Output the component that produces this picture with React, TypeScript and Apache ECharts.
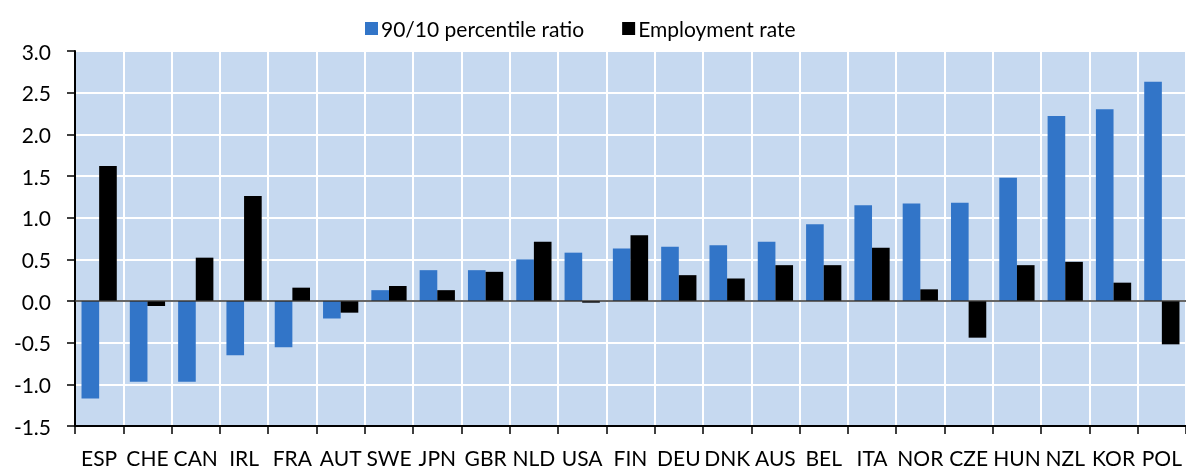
import React, { useEffect, useRef } from "react";
import * as echarts from "echarts";

const categories = ["ESP","CHE","CAN","IRL","FRA","AUT","SWE","JPN","GBR","NLD","USA","FIN","DEU","DNK","AUS","BEL","ITA","NOR","CZE","HUN","NZL","KOR","POL"];
const percentileRatio = [-1.17,-0.97,-0.97,-0.65,-0.555,-0.21,0.13,0.37,0.37,0.50,0.58,0.63,0.65,0.67,0.71,0.92,1.15,1.17,1.18,1.48,2.22,2.30,2.63];
const employmentRate = [1.62,-0.06,0.52,1.26,0.16,-0.14,0.18,0.13,0.35,0.71,-0.02,0.79,0.31,0.27,0.43,0.43,0.64,0.14,-0.44,0.43,0.47,0.22,-0.52];
const seriesNames = ["90/10 percentile ratio", "Employment rate"];

const FONT = "Lato";

export default function App() {
  const ref = useRef<HTMLDivElement>(null);
  useEffect(() => {
    if (!ref.current) return;
    const chart = echarts.init(ref.current, undefined, { renderer: "svg" });
    chart.setOption({
      animation: false,
      textStyle: { fontFamily: FONT },
      legend: {
        top: 13,
        left: 360,
        itemWidth: 13,
        itemHeight: 13,
        itemGap: 38,
        icon: "rect",
        textStyle: { fontSize: 21, color: "#000", fontFamily: FONT, padding: [0, 0, 0, -2] },
        data: seriesNames,
      },
      grid: {
        left: 75,
        top: 51,
        bottom: 42,
        right: -10,
        show: true,
        backgroundColor: "#c6d9f0",
        borderWidth: 0,
      },
      xAxis: {
        type: "category",
        data: categories,
        boundaryGap: true,
        axisLine: { show: true, onZero: false, lineStyle: { color: "#000", width: 2 } },
        axisTick: { show: true, length: 8, lineStyle: { color: "#000", width: 1.5 } },
        axisLabel: { fontSize: 21, lineHeight: 20, color: "#000", margin: 21, fontFamily: FONT, interval: 0 },
        splitLine: { show: true, lineStyle: { color: "#ffffff", width: 2 } },
      },
      yAxis: {
        type: "value",
        min: -1.5,
        max: 3,
        interval: 0.5,
        axisLine: { show: true, lineStyle: { color: "#000", width: 2 } },
        axisTick: { show: true, length: 8, lineStyle: { color: "#000", width: 1.5 } },
        axisLabel: {
          fontSize: 21,
          color: "#000",
          margin: 24,
          fontFamily: FONT,
          formatter: (v: number) => v.toFixed(1),
        },
        splitLine: { show: true, lineStyle: { color: "#ffffff", width: 2 } },
      },
      series: [
        {
          name: seriesNames[0],
          type: "bar",
          data: percentileRatio,
          itemStyle: { color: "#3275c8" },
          barGap: "0%",
          barCategoryGap: "27%",
          markLine: {
            silent: true,
            symbol: "none",
            label: { show: false },
            lineStyle: { color: "#333", width: 1.5, type: "solid" },
            data: [{ yAxis: 0 }],
          },
        },
        {
          name: seriesNames[1],
          type: "bar",
          data: employmentRate,
          itemStyle: { color: "#000000" },
          barGap: "0%",
          barCategoryGap: "27%",
        },
      ],
    });
    return () => chart.dispose();
  }, []);
  return (
    <div
      ref={ref}
      style={{ position: "fixed", left: 0, top: 0, width: 1186, height: 468 }}
    />
  );
}
